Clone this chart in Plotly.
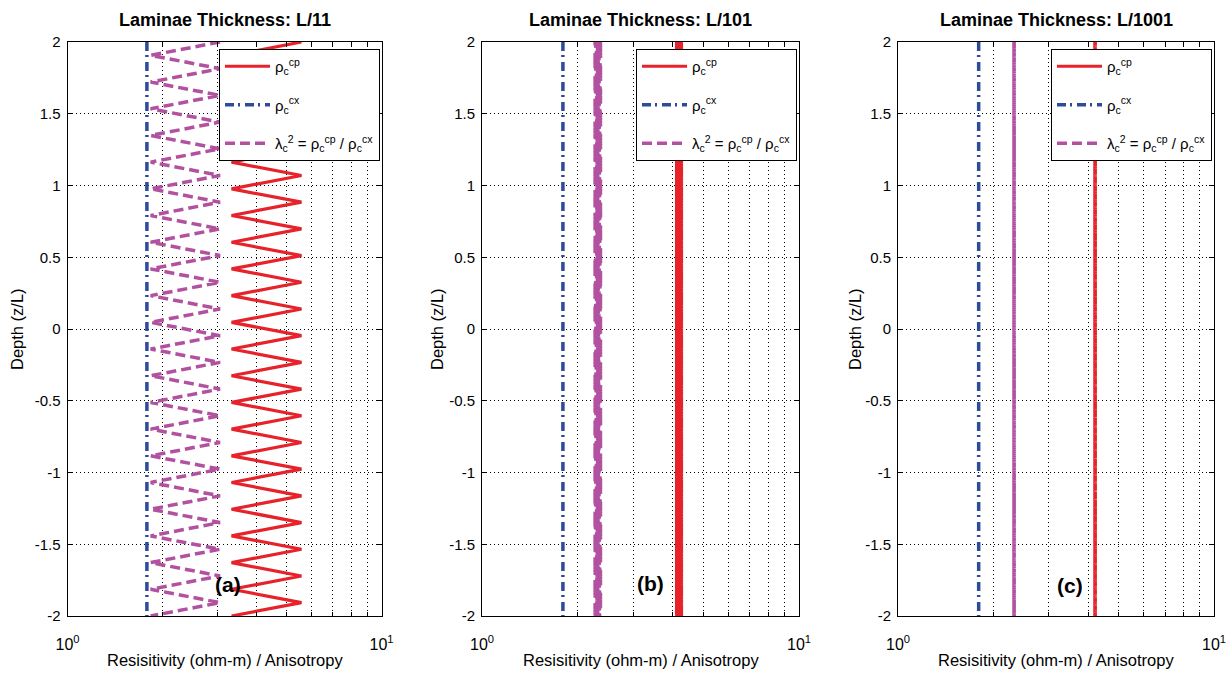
import numpy as np
import plotly.graph_objects as go

# ---------------- data ----------------
panel_titles = ["Laminae Thickness: L/11", "Laminae Thickness: L/101", "Laminae Thickness: L/1001"]
panel_tags = ["(a)", "(b)", "(c)"]
samples_per_panel = [44, 404, 4004]          # depth samples from z/L = 2 down to -2
depth_top = 2.0
depth_bottom = -2.0

rho_cp_high = [5.56, 4.30, 4.26]             # alternating layer values of rho_c^cp
rho_cp_low = [3.33, 4.07, 4.15]
rho_cx_value = [1.79, 1.80, 1.80]            # rho_c^cx (constant)
lam_high = [3.06, 2.39, 2.36]                # lambda_c^2 = rho_cp / rho_cx
lam_low = [1.84, 2.25, 2.30]

tag_x = [3.24, 3.39, 3.49]
tag_y = [-1.78, -1.77, -1.79]

x_tick_vals = [1, 2, 3, 4, 5, 6, 7, 8, 9, 10]
x_tick_text = ["10<sup>0</sup>", "", "", "", "", "", "", "", "", "10<sup>1</sup>"]
y_tick_vals = [2, 1.5, 1, 0.5, 0, -0.5, -1, -1.5, -2]
y_tick_text = ["2", "1.5", "1", "0.5", "0", "-0.5", "-1", "-1.5", "-2"]

legend_names = ["ρ<sub>c</sub><sup>cp</sup>",
                "ρ<sub>c</sub><sup>cx</sup>",
                "λ<sub>c</sub><sup>2</sup> = ρ<sub>c</sub><sup>cp</sup> / ρ<sub>c</sub><sup>cx</sup>"]

# ---------------- styling ----------------
W, H = 1231, 673
RED = "#E6232A"
BLUE = "#2D4A9C"
MAGENTA = "#B2519F"
FONT = "Liberation Sans, Arial, sans-serif"

x_px = [(67.5, 381.5), (482.0, 799.0), (898.0, 1214.0)]
y_px = (42.0, 616.0)
legend_px = [(219, 49), (636, 49), (1051, 49)]
ylabel_px = [17, 437, 855]

fig = go.Figure()

for i in range(3):
    n = samples_per_panel[i]
    depth = np.linspace(depth_top, depth_bottom, n)
    even = (np.arange(n) % 2) == 0
    cp = np.where(even, rho_cp_high[i], rho_cp_low[i])
    lam = np.where(even, lam_high[i], lam_low[i])
    cx = [rho_cx_value[i], rho_cx_value[i]]
    sfx = "" if i == 0 else str(i + 1)
    leg = "legend" + sfx
    xa, ya = "x" + sfx, "y" + sfx

    fig.add_trace(go.Scatter(x=cp, y=depth, mode="lines", name=legend_names[0],
                             line=dict(color=RED, width=3.2, simplify=False),
                             legendgroup="cp" + sfx,
                             xaxis=xa, yaxis=ya, legend=leg))
    fig.add_trace(go.Scatter(x=cx, y=[depth_top, depth_bottom], mode="lines", name=legend_names[1],
                             line=dict(color=BLUE, width=3.5, dash="9px,4px,2px,5px"),
                             legendgroup="cx" + sfx,
                             xaxis=xa, yaxis=ya, legend=leg))
    fig.add_trace(go.Scatter(x=lam, y=depth, mode="lines", name=legend_names[2],
                             line=dict(color=MAGENTA, width=3.5, dash="10px,5px", simplify=False),
                             legendgroup="lam" + sfx,
                             xaxis=xa, yaxis=ya, legend=leg))

layout = dict(
    width=W, height=H,
    margin=dict(l=0, r=0, t=0, b=0, autoexpand=False),
    paper_bgcolor="white", plot_bgcolor="white",
    font=dict(family=FONT, size=13, color="black"),
    showlegend=True,
)

annotations = []
for i in range(3):
    sfx = "" if i == 0 else str(i + 1)
    x0, x1 = x_px[i]
    dom_x = [x0 / W, x1 / W]
    dom_y = [(H - y_px[1]) / H, (H - y_px[0]) / H]
    layout["xaxis" + sfx] = dict(
        type="log", range=[0, 1], domain=dom_x, anchor="y" + sfx, automargin=False,
        tickmode="array", tickvals=x_tick_vals, ticktext=x_tick_text,
        ticks="inside", ticklen=4, tickcolor="black", tickwidth=1,
        showline=True, linecolor="black", linewidth=1, mirror="ticks",
        showgrid=True, gridcolor="black", gridwidth=1, griddash="1px,3px",
        tickfont=dict(size=16, family=FONT), zeroline=False, ticklabelstandoff=14,
    )
    layout["yaxis" + sfx] = dict(
        range=[depth_bottom, depth_top], domain=dom_y, anchor="x" + sfx, automargin=False,
        tickmode="array", tickvals=y_tick_vals, ticktext=y_tick_text,
        ticks="inside", ticklen=5, tickcolor="black", tickwidth=1,
        showline=True, linecolor="black", linewidth=1, mirror="ticks",
        showgrid=True, gridcolor="black", gridwidth=1, griddash="1px,3px",
        tickfont=dict(size=15, family=FONT), zeroline=False, ticklabelstandoff=3,
    )
    lx, ly = legend_px[i]
    layout["legend" + sfx] = dict(
        x=lx / W, y=(H - ly) / H, xanchor="left", yanchor="top",
        xref="paper", yref="paper",
        bgcolor="white", bordercolor="black", borderwidth=1,
        font=dict(size=15, family=FONT, color="black"),
        itemwidth=45, tracegroupgap=16,
    )
    cx_mid = (x0 + x1) / 2 / W
    annotations.append(dict(text="<b>" + panel_titles[i] + "</b>", x=cx_mid, y=(H - 20) / H,
                            xref="paper", yref="paper", showarrow=False,
                            xanchor="center", yanchor="middle",
                            font=dict(size=18, family=FONT, color="black")))
    annotations.append(dict(text="Resisitivity (ohm-m) / Anisotropy", x=cx_mid, y=(H - 660) / H,
                            xref="paper", yref="paper", showarrow=False,
                            xanchor="center", yanchor="middle",
                            font=dict(size=16.5, family=FONT, color="black")))
    annotations.append(dict(text="Depth (z/L)", x=ylabel_px[i] / W, y=(H - 329) / H,
                            xref="paper", yref="paper", showarrow=False, textangle=-90,
                            xanchor="center", yanchor="middle",
                            font=dict(size=16.5, family=FONT, color="black")))
    annotations.append(dict(text="<b>" + panel_tags[i] + "</b>", x=np.log10(tag_x[i]), y=tag_y[i],
                            xref="x" + sfx, yref="y" + sfx, showarrow=False,
                            xanchor="center", yanchor="middle",
                            font=dict(size=21, family=FONT, color="black")))

layout["annotations"] = annotations
fig.update_layout(**layout)

fig.write_html("out.html")
